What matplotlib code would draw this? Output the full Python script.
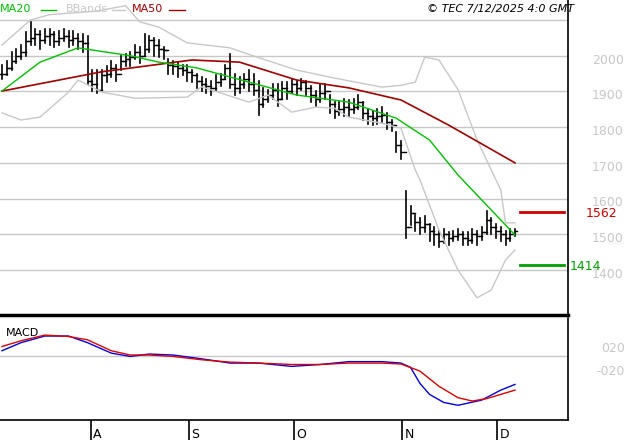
import matplotlib
matplotlib.use("Agg")
import matplotlib.pyplot as plt
import numpy as np

# daily bars, July -> early December
closes = [1950,1965,1985,2000,2010,2040,2050,2060,2045,2055,2060,2040,2050,2055,2045,2050,2040,2035,1930,
          1920,1905,1945,1950,1965,1950,1985,1990,1995,2010,2000,2020,2045,2030,2020,2015,
          1975,1970,1965,1960,
          1955,1945,1930,1920,1915,1910,1925,1935,1965,1920,1910,1920,1935,1920,1905,1865,1880,1890,1905,1880,1910,
          1900,1920,1910,1925,1910,1890,1880,1895,1900,1865,1845,1850,1855,1850,1855,1870,1840,1830,1825,1830,1835,1815,1805,
          1750,1730,1520,1560,1535,1520,1530,1510,1500,1480,1500,1490,1495,1500,1490,1485,1500,1495,1505,1540,1520,1510,1500,1490,1500,1510]
highs = [1975,1985,2010,2020,2030,2065,2095,2075,2070,2075,2075,2065,2070,2075,2070,2070,2060,2060,2055,
         1960,1960,1960,1970,1985,1975,2000,2005,2010,2030,2025,2060,2055,2050,2045,2025,
         1990,1985,1980,1975,
         1975,1960,1950,1940,1935,1930,1945,1950,1975,2005,1950,1940,1950,1960,1950,1930,1910,1905,1920,1920,1925,
         1925,1935,1930,1935,1930,1915,1900,1920,1920,1890,1870,1870,1880,1875,1880,1890,1870,1850,1845,1850,1855,1840,1820,
         1785,1760,1620,1580,1555,1545,1550,1530,1520,1510,1515,1505,1510,1515,1505,1505,1515,1510,1520,1565,1545,1530,1520,1510,1515,1515]
lows = [1935,1945,1960,1980,1990,2000,2030,2030,2020,2035,2030,2025,2030,2040,2025,2030,2020,2010,1920,
        1900,1895,1905,1925,1940,1930,1960,1970,1970,1990,1980,2000,2010,2000,1995,1990,
        1950,1950,1940,1945,
        1930,1925,1910,1900,1895,1890,1900,1915,1935,1910,1890,1895,1910,1900,1890,1835,1855,1870,1880,1860,1880,
        1880,1895,1890,1905,1890,1870,1860,1870,1880,1840,1825,1835,1830,1830,1840,1850,1820,1810,1805,1810,1815,1795,1790,
        1730,1710,1490,1525,1510,1500,1505,1480,1470,1465,1475,1470,1480,1485,1470,1470,1475,1470,1485,1500,1500,1490,1480,1470,1480,1495]

# indicator curves: (bar index, value)
ma20 = [(0,1901),(8,1982),(16,2022),(27,2000),(33,1982),(41,1966),(52,1926),(62,1890),(73,1870),(83,1825),(90,1764),(96,1666),(103,1568),(108,1498)]
ma50 = [(0,1901),(21,1955),(40,1988),(50,1982),(62,1932),(73,1910),(84,1876),(94,1806),(108,1700)]
bb_up = [(0,2030),(6,2100),(10,2115),(20,2125),(26,2140),(29,2095),(33,2080),(39,2036),(48,2022),(53,1999),(62,1960),(69,1940),(80,1912),(84,1917),(87,1926),(89,1996),(92,1988),(96,1905),(100,1765),(105,1624),(106,1532),(108,1532)]
bb_low = [(0,1840),(4,1820),(8,1828),(14,1898),(16,1932),(21,1898),(28,1881),(39,1884),(42,1913),(52,1870),(56,1890),(61,1842),(66,1856),(70,1853),(73,1828),(80,1811),(84,1797),(87,1680),(88,1652),(92,1512),(96,1400),(100,1322),(103,1344),(106,1428),(108,1456)]
macd = [(0,0.26),(4,0.43),(9,0.57),(14,0.57),(18,0.43),(23,0.21),(27,0.14),(31,0.19),(36,0.17),(42,0.09),(48,0.0),(54,0.0),(61,-0.07),(67,-0.03),(73,0.03),(80,0.03),(84,0.0),(86,-0.09),(88,-0.43),(90,-0.66),(93,-0.83),(96,-0.89),(101,-0.78),(105,-0.57),(108,-0.45)]
signal = [(0,0.35),(4,0.47),(9,0.59),(14,0.56),(18,0.49),(23,0.26),(27,0.17),(31,0.17),(36,0.14),(42,0.07),(48,0.02),(54,0.0),(61,-0.03),(67,-0.03),(73,0.0),(80,0.0),(84,-0.02),(88,-0.17),(92,-0.49),(96,-0.73),(99,-0.80),(102,-0.75),(108,-0.57)]

month_labels = ["A", "S", "O", "N", "D"]
month_idx = [18.7, 39.4, 61.5, 84.2, 104.2]
price_ticks = [1400, 1500, 1600, 1700, 1800, 1900, 2000]
level_hi, level_lo = 1562, 1414

step = 4.75
x0 = -2 / step
x1 = 566 / step
grey = "#c8c8c8"

fig = plt.figure(figsize=(6.27, 4.4), dpi=100)
ax = fig.add_axes([0, 1 - 315 / 440, 568 / 627, 315 / 440])
am = fig.add_axes([0, 20 / 440, 568 / 627, 102 / 440])

idx = np.arange(len(closes))
opens = [closes[0]] + closes[:-1]
for i in idx:
    ax.plot([i, i], [lows[i], highs[i]], color="black", lw=1.2)
    ax.plot([i - 0.45, i], [opens[i], opens[i]], color="black", lw=1)
    ax.plot([i, i + 0.45], [closes[i], closes[i]], color="black", lw=1)

def curve(a, pts, **kw):
    xs, ys = zip(*pts)
    a.plot(xs, ys, **kw)

curve(ax, bb_up, color=grey, lw=1)
curve(ax, bb_low, color=grey, lw=1)
curve(ax, ma50, color="#a00000", lw=1.2)
curve(ax, ma20, color="#00c000", lw=1)

for p in price_ticks:
    ax.axhline(p, color=grey, lw=1, zorder=0)
ax.axhline(2100, color=grey, lw=1, zorder=0)

ax.set_xlim(x0, x1)
ax.set_ylim(1274, 2156)
ax.set_xticks([])
ax.set_yticks([])
for s in ["top", "left"]:
    ax.spines[s].set_visible(False)
ax.spines["right"].set_linewidth(1.2)
ax.spines["bottom"].set_linewidth(2.5)

# right-hand price labels and level markers
for p in price_ticks:
    if p in (1700, 1800, 1900, 2000, 1600, 1500, 1400):
        ax.text(x1 + 24 / step, p - 12, str(p), color=grey, fontsize=9, ha="left", va="center", clip_on=False)
ax.plot([518 / step, 562 / step], [level_hi, level_hi], color="#d00000", lw=2)
ax.text(x1 + 18 / step, level_hi - 5, str(level_hi), color="#d00000", fontsize=9, va="center", clip_on=False)
ax.plot([518 / step, 562 / step], [level_lo, level_lo], color="#00a000", lw=2)
ax.text(x1 + 2 / step, level_lo - 3, str(level_lo), color="#00a000", fontsize=9, va="center", clip_on=False)

# legend text
fig.text(0.0, 0.99, "MA20", color="#00c000", fontsize=8, va="top")
fig.text(0.105, 0.99, "BBands", color=grey, fontsize=8, va="top")
fig.text(0.21, 0.99, "MA50", color="#a00000", fontsize=8, va="top")
fig.add_artist(plt.Line2D([0.065, 0.09], [0.978, 0.978], color="#00c000", lw=1))
fig.add_artist(plt.Line2D([0.178, 0.2], [0.978, 0.978], color=grey, lw=1))
fig.add_artist(plt.Line2D([0.27, 0.295], [0.978, 0.978], color="#a00000", lw=1))
fig.text(0.915, 0.99, "© TEC 7/12/2025 4:0 GMT", fontsize=8, style="italic", ha="right", va="top")

# MACD panel
curve(am, macd, color="#0000e0", lw=1)
curve(am, signal, color="#e00000", lw=1)
am.axhline(0.14, color=grey, lw=1, zorder=0)
am.set_xlim(x0, x1)
am.set_ylim(-1.2, 0.95)
am.set_yticks([])
am.set_xticks(month_idx)
am.set_xticklabels([])
am.tick_params(axis="x", direction="out", length=17, width=1.2, color="black")
for s in ["top", "left"]:
    am.spines[s].set_visible(False)
am.spines["right"].set_linewidth(1.2)
am.spines["bottom"].set_linewidth(1.2)
for m, lab in zip(month_idx, month_labels):
    am.text(m + 0.5, -1.5, lab, fontsize=9, va="center", ha="left", clip_on=False)
am.text(0.01, 0.85, "MACD", transform=am.transAxes, fontsize=8, va="center")
am.text(x1 + 33 / step, 0.3, "020", color=grey, fontsize=9, va="center", clip_on=False)
am.text(x1 + 28 / step, -0.18, "-020", color=grey, fontsize=9, va="center", clip_on=False)

fig.savefig("out.png", dpi=100)
